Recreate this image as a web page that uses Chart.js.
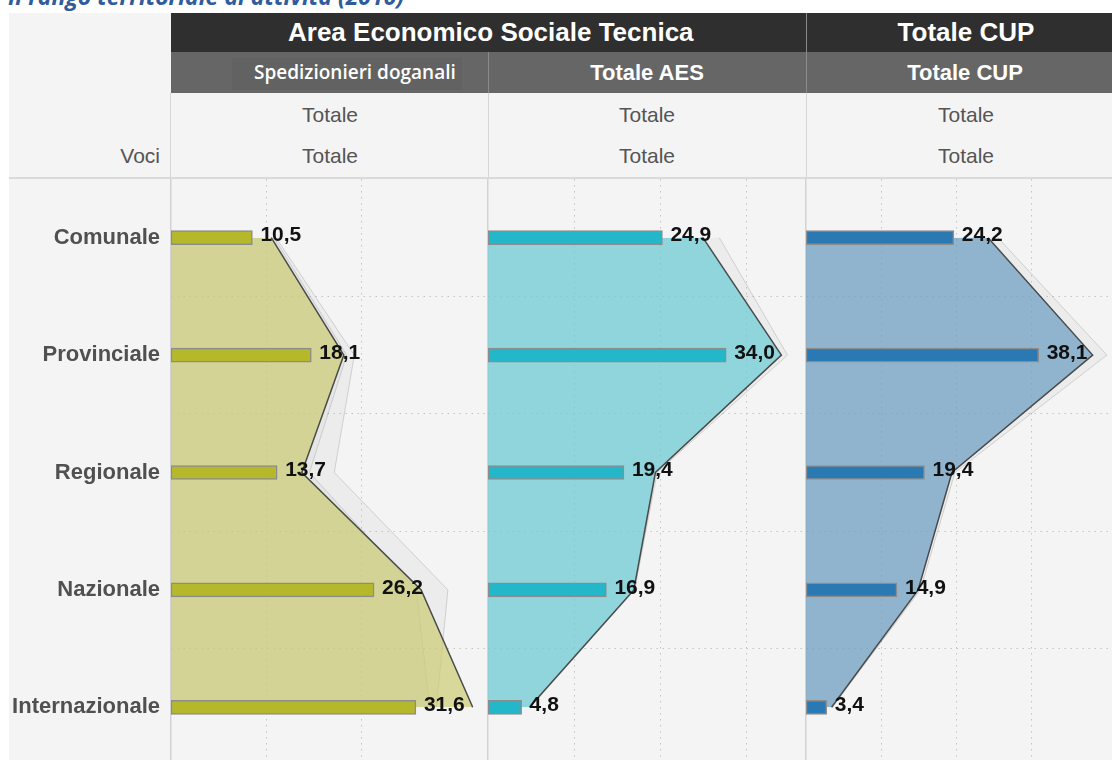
<!DOCTYPE html>
<html>
<head>
<meta charset="utf-8">
<script src="https://cdn.jsdelivr.net/npm/chart.js@4.4.0/dist/chart.umd.min.js"></script>
<style>
html, body { margin: 0; padding: 0; background: #fff; width: 1112px; height: 760px; overflow: hidden; position: relative; font-family: "Liberation Sans", Arial, sans-serif; }
div { position: absolute; }
canvas { position: absolute; }
#title { left: 8px; top: -16px; font: italic bold 23px "Open Sans", sans-serif; line-height: 24px; color: #2f5c9c; white-space: nowrap; }
#frame { left: 9px; top: 13px; width: 1103px; height: 747px; background: #f4f4f4; }
.r1 { top: 13px; height: 39px; background: #2f2f2f; }
.r2 { top: 52px; height: 41px; background: #666; }
.t1 { top: 13px; height: 39px; line-height: 39px; color: #fff; font-weight: bold; font-size: 26px; text-align: center; white-space: nowrap; }
.t2 { top: 52px; height: 41px; line-height: 41px; color: #fff; font-weight: bold; font-size: 22px; text-align: center; white-space: nowrap; }
.sub { font-size: 21px; line-height: 21px; color: #555; text-align: center; white-space: nowrap; }
</style>
</head>
<body>
<div id="title">Il rango territoriale di attività  (2010)</div>
<div id="frame"></div>

<div class="r1" style="left:171px;width:941px;"></div>
<div class="r2" style="left:171px;width:941px;"></div>
<div style="left:232px;top:58px;width:230px;height:32px;background:#626262;"></div>

<div style="left:806px;top:13px;width:1px;height:80px;background:#8a8a8a;"></div>
<div style="left:488px;top:52px;width:1px;height:41px;background:#8a8a8a;"></div>
<div style="left:170px;top:93px;width:1px;height:85px;background:#d6d6d6;"></div>
<div style="left:488px;top:93px;width:1px;height:85px;background:#d6d6d6;"></div>
<div style="left:806px;top:93px;width:1px;height:85px;background:#d6d6d6;"></div>
<div style="left:9px;top:177px;width:1103px;height:2px;background:#dadada;"></div>

<div class="t1" style="left:288px;width:400px;">Area Economico Sociale Tecnica</div>
<div class="t1" style="left:866px;width:200px;">Totale CUP</div>
<div class="t2" style="left:254px;width:200px;font-family:'Open Sans',sans-serif;font-weight:600;font-size:19px;">Spedizionieri doganali</div>
<div class="t2" style="left:547px;width:200px;">Totale AES</div>
<div class="t2" style="left:865px;width:200px;">Totale CUP</div>

<div class="sub" style="left:230px;top:104px;width:200px;">Totale</div>
<div class="sub" style="left:547px;top:104px;width:200px;">Totale</div>
<div class="sub" style="left:866px;top:104px;width:200px;">Totale</div>
<div class="sub" style="left:230px;top:145px;width:200px;">Totale</div>
<div class="sub" style="left:547px;top:145px;width:200px;">Totale</div>
<div class="sub" style="left:866px;top:145px;width:200px;">Totale</div>
<div class="sub" style="left:60px;top:145px;width:100px;text-align:right;">Voci</div>

<canvas id="c1" width="479" height="587" style="left:9px;top:179px;"></canvas>
<canvas id="c2" width="319" height="587" style="left:487px;top:179px;"></canvas>
<canvas id="c3" width="320" height="587" style="left:805px;top:179px;"></canvas>

<script>
// categorie (righe)
const categories = ['Comunale', 'Provinciale', 'Regionale', 'Nazionale', 'Internazionale'];

// valori % per colonna
const spedizionieri = [10.5, 18.1, 13.7, 26.2, 31.6];
const totaleAES = [24.9, 34.0, 19.4, 16.9, 4.8];
const totaleCUP = [24.2, 38.1, 19.4, 14.9, 3.4];

// sagome grigie di confronto, lette a occhio
const ghostSped1 = [11.0, 19.2, 17.1, 29.0, 27.8];
const ghostSped2 = [10.8, 18.4, 14.5, 25.7, 27.1];
const ghostAES = [26.8, 34.7, 19.6, 17.0, 4.9];
const ghostCUP = [25.5, 40.0, 19.8, 15.2, 3.5];

const FONT = '"Liberation Sans", Arial, sans-serif';

// etichette dei valori a destra delle barre
const valueLabels = {
    id: 'valueLabels',
    afterDatasetsDraw(chart) {
        const ctx = chart.ctx;
        chart.data.datasets.forEach((ds, i) => {
            if (ds.type !== 'bar') return;
            const meta = chart.getDatasetMeta(i);
            ctx.save();
            ctx.font = 'bold 21px ' + FONT;
            ctx.fillStyle = '#111';
            ctx.textBaseline = 'middle';
            meta.data.forEach((el, j) => {
                ctx.fillText(ds.data[j].toFixed(1).replace('.', ','), el.x + 8, el.y - 2);
            });
            ctx.restore();
        });
    }
};

const panels = [
    { id: 'c1', values: spedizionieri, ghosts: [ghostSped1, ghostSped2], bar: '#b5b82b', area: 'rgba(203,204,114,0.7)', max: 33.2, yWidth: 162, labels: true },
    { id: 'c2', values: totaleAES, ghosts: [ghostAES], bar: '#24b6c9', area: 'rgba(105,203,214,0.7)', max: 36.85, yWidth: 1, labels: false },
    { id: 'c3', values: totaleCUP, ghosts: [ghostCUP], bar: '#2b79b3', area: 'rgba(107,157,194,0.7)', max: 42.4, yWidth: 1, labels: false }
];

panels.forEach(p => {
    const datasets = [
        {
            type: 'bar', data: p.values, xAxisID: 'xb',
            backgroundColor: p.bar, borderColor: '#8c8c8c', borderWidth: 1.5,
            borderSkipped: false, barThickness: 14, order: 0
        },
        {
            type: 'line', data: p.values, xAxisID: 'x',
            fill: 'origin', backgroundColor: p.area,
            borderColor: '#4a4a4a', borderWidth: 1.5, pointRadius: 0, order: 1
        }
    ];
    p.ghosts.forEach(g => {
        datasets.push({
            type: 'line', data: g, xAxisID: 'x',
            fill: 'origin', backgroundColor: 'rgba(150,150,150,0.08)',
            borderColor: 'rgba(130,130,130,0.3)', borderWidth: 1, pointRadius: 0, order: 2
        });
    });

    new Chart(document.getElementById(p.id), {
        type: 'bar',
        data: { labels: categories, datasets: datasets },
        options: {
            indexAxis: 'y',
            responsive: false,
            animation: false,
            layout: { padding: 0 },
            plugins: { legend: { display: false }, tooltip: { enabled: false } },
            scales: {
                y: {
                    type: 'category',
                    offset: true,
                    grid: {
                        offset: true,
                        drawTicks: false,
                        color: c => c.index === 0 ? 'transparent' : '#c4c4c4'
                    },
                    border: { display: true, color: '#d2d2d2', width: 1.5, dash: [1.5, 4.5] },
                    ticks: {
                        display: p.labels,
                        color: '#505050',
                        padding: 11,
                        font: { family: FONT, size: 22, weight: 'bold' }
                    },
                    afterFit: s => {
                        s.width = p.yWidth;
                        s.paddingTop = 0;
                        s.paddingBottom = 0;
                    }
                },
                x: {
                    type: 'linear',
                    min: 0,
                    max: p.max,
                    ticks: { display: false, stepSize: 10 },
                    grid: {
                        drawTicks: false,
                        color: c => (c.tick && c.tick.value > 0 && c.tick.value % 10 === 0) ? '#c4c4c4' : 'transparent'
                    },
                    border: { display: false, dash: [1.5, 4.5] },
                    afterFit: s => { s.height = 0; }
                },
                xb: {
                    type: 'linear',
                    min: 0,
                    max: p.max * 1.232,
                    display: false
                }
            }
        },
        plugins: [valueLabels]
    });
});
</script>
</body>
</html>
